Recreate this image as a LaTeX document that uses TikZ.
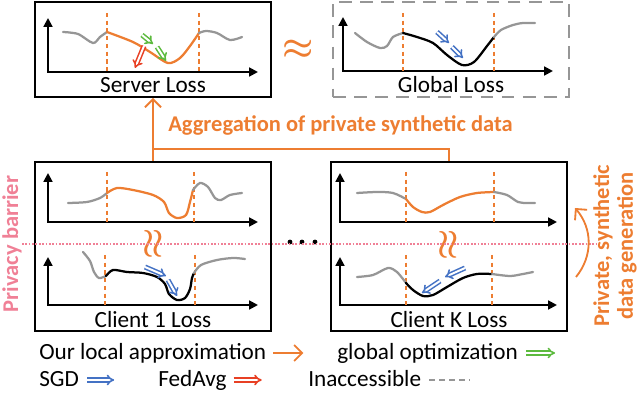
\documentclass[tikz,border=0pt]{standalone}
\usepackage{fontspec}
\setmainfont{Carlito}
\usetikzlibrary{arrows.meta,positioning}
\definecolor{lossOrange}{RGB}{237,125,49}
\definecolor{lossBlue}{RGB}{68,114,196}
\definecolor{lossGreen}{RGB}{92,186,62}
\definecolor{lossRed}{RGB}{232,64,36}
\definecolor{lossGray}{RGB}{150,150,150}
\definecolor{barrierPink}{RGB}{240,128,150}

\begin{document}
\begin{tikzpicture}[
  x=0.025cm,y=-0.025cm,
  lossbox/.style={
    draw,
    line width=1.4pt,
    minimum width=5.9cm,
    minimum height=2.375cm,
    inner sep=0
  },
  clientbox/.style={lossbox,minimum height=4.225cm},
  boxlabel/.style={anchor=base,inner sep=0,font=\fontsize{16.5}{19}\selectfont},
  legendtext/.style={anchor=base west,inner sep=0,font=\fontsize{16.5}{19}\selectfont},
  note/.style={inner sep=0,font=\bfseries\fontsize{16}{18}\selectfont},
  axis/.style={line width=1.4pt,{Triangle[length=2.2mm,width=2.2mm]}-{Triangle[length=2.2mm,width=2.2mm]}},
  cut/.style={lossOrange,line width=1.2pt,dash pattern=on 3pt off 2.5pt},
  curve/.style={line width=1.6pt,line cap=round},
  steparrow/.style={double,double distance=1.4pt,line width=1.1pt,-{Implies}},
  aggarrow/.style={lossOrange,line width=1.3pt,-{Straight Barb[length=2mm]}},
  approx/.style={text=lossOrange,inner sep=0,font=\fontsize{27}{27}\selectfont}
]
  \useasboundingbox (0,0) rectangle (640,393);

  % boxes
  \node[lossbox] (server) at (153,49.5) {};
  \node[lossbox,draw=lossGray,dash pattern=on 9pt off 6pt,right=1.5cm of server] (global) {};
  \node[clientbox,below=1.575cm of server] (client1) {};
  \node[clientbox,right=1.45cm of client1] (clientK) {};

  \node[boxlabel] (serverlabel) at ([yshift=0.125cm]server.south) {Server Loss};
  \node[boxlabel] (globallabel) at ([yshift=0.125cm]global.south) {Global Loss};
  \node[boxlabel] (client1label) at ([yshift=0.125cm]client1.south) {Client 1 Loss};
  \node[boxlabel] (clientKlabel) at ([yshift=0.125cm]clientK.south) {Client K Loss};

  % server loss
  \draw[axis] (48,18) |- (258,72);
  \draw[cut] (107,13) -- (107,72) (199,13) -- (199,72);
  \draw[curve,lossGray] plot[smooth] coordinates {(63,32) (78,34) (93,43) (100,37) (107,32)};
  \draw[curve,lossOrange] plot[smooth] coordinates {(107,32) (133,42) (150,52) (168,63) (180,58) (190,46) (199,33)};
  \draw[curve,lossGray] plot[smooth] coordinates {(199,33) (206,31) (217,33) (230,40) (242,37)};
  \draw[steparrow,draw=lossGreen] (142,35) -- (153,44);
  \draw[steparrow,draw=lossGreen] (157,47) -- (166,61);
  \draw[steparrow,draw=lossRed] (144,46) -- (135,68);

  \node[approx] (serverapprox) at (298,50) {{\boldmath$\approx$}};

  % global loss
  \draw[axis] (343,17) |- (553,71);
  \draw[cut] (403,13) -- (403,71) (494,13) -- (494,71);
  \draw[curve,lossGray] plot[smooth] coordinates {(355,33) (367,42) (380,48) (387,46) (393,37) (403,33)};
  \draw[curve] plot[smooth] coordinates {(403,33) (417,37) (433,43) (447,55) (462,65) (474,62) (487,46) (494,37)};
  \draw[curve,lossGray] plot[smooth] coordinates {(494,37) (501,30) (513,25) (523,23) (535,23)};
  \draw[steparrow,draw=lossBlue] (437,32) -- (449,43);
  \draw[steparrow,draw=lossBlue] (452,47) -- (463,58);

  % aggregation
  \draw[aggarrow] (client1.north) -- (server.south);
  \draw[aggarrow,-] (clientK.north) -- ++(0,-12) -| (client1.north);
  \node[note,text=lossOrange,anchor=base west] (aggtext) at (168,132) {Aggregation of private synthetic data};

  % client 1
  \draw[axis] (48,173) |- (258,222);
  \draw[cut] (107,172) -- (107,222) (194,172) -- (194,222);
  \draw[curve,lossGray] plot[smooth] coordinates {(68,203) (87,202) (100,198) (107,193)};
  \draw[curve,lossOrange] plot[smooth] coordinates {(107,193) (117,188) (133,190) (153,195) (164,202) (169,213) (177,218) (186,215) (190,202) (193,190)};
  \draw[curve,lossGray] plot[smooth] coordinates {(193,190) (200,183) (208,187) (215,198) (221,200) (230,195) (242,193)};

  \draw[axis] (48,257) |- (258,305);
  \draw[cut] (105,255) -- (105,305) (195,255) -- (195,305);
  \draw[curve,lossGray] plot[smooth] coordinates {(83,252) (90,261) (94,272) (99,278) (106,276)};
  \draw[curve] plot[smooth] coordinates {(106,276) (113,270) (127,272) (143,273) (157,277) (165,284) (169,294) (177,300) (185,298) (190,289) (192,278) (194,273)};
  \draw[curve,lossGray] plot[smooth] coordinates {(194,273) (201,265) (217,260) (233,258) (245,259)};
  \draw[steparrow,draw=lossBlue] (145,267) -- (166,276);
  \draw[steparrow,draw=lossBlue] (168,280) -- (177,296);

  \node[approx,rotate=90] (client1approx) at (154,244) {{\boldmath$\approx$}};

  % client K
  \draw[axis] (340,173) |- (557,222);
  \draw[cut] (406,172) -- (406,222) (494,172) -- (494,222);
  \draw[curve,lossGray] plot[smooth] coordinates {(357,193) (377,192) (393,193) (406,199)};
  \draw[curve,lossOrange] plot[smooth] coordinates {(406,199) (413,207) (422,212) (430,212) (443,205) (460,197) (477,193) (494,192)};
  \draw[curve,lossGray] plot[smooth] coordinates {(494,192) (507,195) (518,202) (527,203) (535,203)};

  \draw[axis] (340,257) |- (557,305);
  \draw[cut] (406,255) -- (406,305) (492,255) -- (492,305);
  \draw[curve,lossGray] plot[smooth] coordinates {(357,277) (373,275) (388,268) (397,272) (406,283)};
  \draw[curve] plot[smooth] coordinates {(406,283) (413,290) (423,296) (433,295) (447,287) (463,278) (477,274) (492,274)};
  \draw[curve,lossGray] plot[smooth] coordinates {(492,274) (510,276) (523,274) (533,272)};
  \draw[steparrow,draw=lossBlue] (465,268) -- (445,277);
  \draw[steparrow,draw=lossBlue] (440,281) -- (422,293);

  \node[approx,rotate=90] (clientKapprox) at (449,245) {{\boldmath$\approx$}};

  \fill (290,242) circle (1.7pt) (302,242) circle (1.7pt) (315,242) circle (1.7pt);

  % privacy barrier
  \draw[barrierPink,line width=1.4pt,dash pattern=on 1.2pt off 1.2pt] (22,244) -- (596,244);
  \node[note,text=barrierPink,rotate=90] (barriertext) at (12,244) {Privacy barrier};

  % data generation
  \coordinate (genstart) at (576,277);
  \coordinate (genend) at (575,208);
  \draw[aggarrow] (genstart) to[bend right=40] (genend);
  \node[note,text=lossOrange,rotate=90,align=center,font=\bfseries\fontsize{16}{17}\selectfont] (gentext) at (615,246) {Private, synthetic\\data generation};

  % legend
  \node[legendtext] (approxkey) at (39,360) {Our local approximation};
  \draw[aggarrow] ([shift={(7,-7)}]approxkey.base east) -- ++(30,0);
  \node[legendtext] (globalkey) at (337,360) {global optimization};
  \draw[steparrow,draw=lossGreen] ([shift={(8,-7)}]globalkey.base east) -- ++(29,0);
  \node[legendtext] (sgdkey) at (39,387) {SGD};
  \draw[steparrow,draw=lossBlue] ([shift={(8,-7)}]sgdkey.base east) -- ++(27,0);
  \node[legendtext] (fedavgkey) at (158,387) {FedAvg};
  \draw[steparrow,draw=lossRed] ([shift={(7,-7)}]fedavgkey.base east) -- ++(28,0);
  \node[legendtext] (inaccesskey) at (308,387) {Inaccessible};
  \draw[lossGray,line width=1.4pt,dash pattern=on 4pt off 3pt] ([shift={(8,-7)}]inaccesskey.base east) -- ++(40,0);
\end{tikzpicture}
\end{document}
